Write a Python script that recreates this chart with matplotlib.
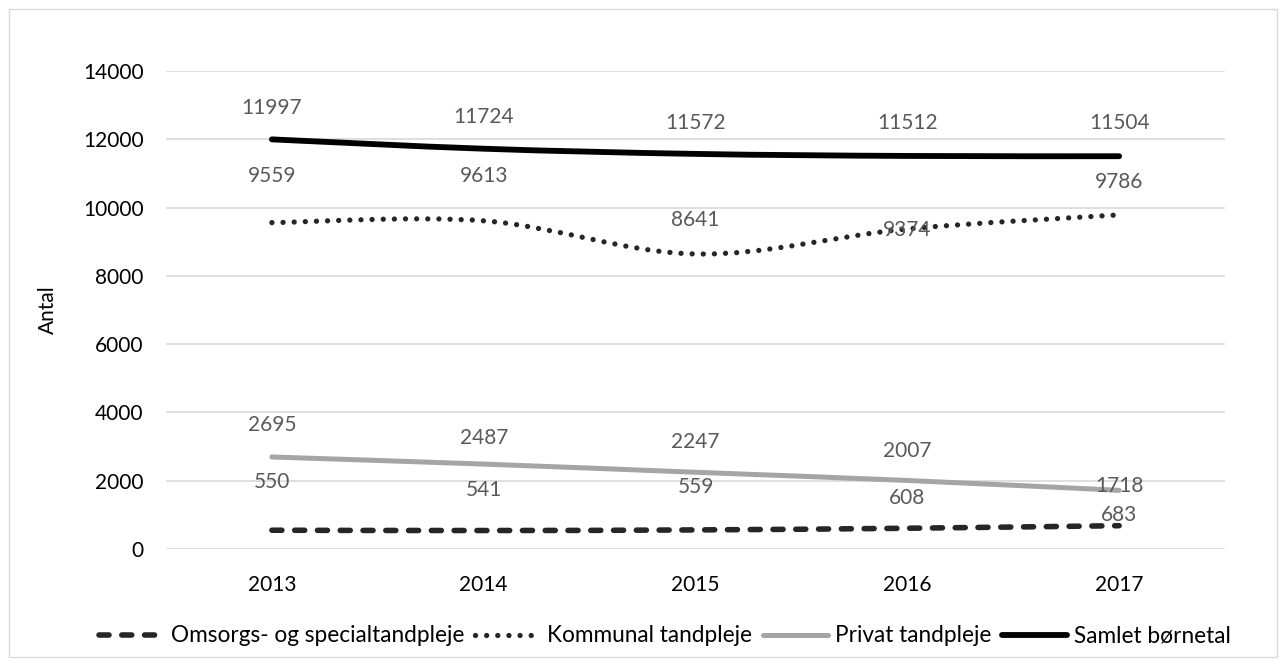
import numpy as np
import matplotlib.pyplot as plt
from matplotlib.path import Path
from matplotlib.patches import PathPatch, Rectangle
from matplotlib.lines import Line2D

# data
years = ['2013', '2014', '2015', '2016', '2017']
omsorg = [550, 541, 559, 608, 683]
kommunal = [9559, 9613, 8641, 9374, 9786]
privat = [2695, 2487, 2247, 2007, 1718]
samlet = [11997, 11724, 11572, 11512, 11504]
names = ['Omsorgs- og specialtandpleje', 'Kommunal tandpleje',
         'Privat tandpleje', 'Samlet børnetal']

# label offsets (pixels above point), labels were placed by hand in the original
offs_omsorg = [48, 41, 43, 30, 11]
offs_kommunal = [47, 45, 34, -1, 33]
offs_privat = [32, 26, 30, 29, 4]
offs_samlet = [31, 32, 31, 33, 33]

plt.rcParams['font.family'] = ['Lato', 'DejaVu Sans']


def smooth_path(xs, ys):
    # excel style smoothed line: cubic bezier, catmull-rom control points
    pts = list(zip(xs, ys))
    verts = [pts[0]]
    codes = [Path.MOVETO]
    n = len(pts)
    for i in range(n - 1):
        p0 = pts[max(i - 1, 0)]
        p1 = pts[i]
        p2 = pts[i + 1]
        p3 = pts[min(i + 2, n - 1)]
        c1 = (p1[0] + (p2[0] - p0[0]) / 6, p1[1] + (p2[1] - p0[1]) / 6)
        c2 = (p2[0] - (p3[0] - p1[0]) / 6, p2[1] - (p3[1] - p1[1]) / 6)
        verts += [c1, c2, p2]
        codes += [Path.CURVE4] * 3
    return Path(verts, codes)


fig = plt.figure(figsize=(12.86, 6.66), dpi=100)
fig.patches.append(Rectangle((9 / 1286, 9 / 666), 1268 / 1286, 648 / 666,
                             transform=fig.transFigure, fill=False,
                             edgecolor='#D9D9D9', linewidth=1))
ax = fig.add_axes([166 / 1286, 1 - 549 / 666, 1059 / 1286, 478 / 666])

x = np.arange(len(years))
styles = [
    dict(color='#262626', lw=4, ls=(0, (1.8, 2.3))),
    dict(color='#262626', lw=3.8, ls=(0, (0.01, 2.1))),
    dict(color='#A5A5A5', lw=3.6, ls='-'),
    dict(color='#000000', lw=4.2, ls='-'),
]
series = [omsorg, kommunal, privat, samlet]
offsets = [offs_omsorg, offs_kommunal, offs_privat, offs_samlet]

handles = []
for vals, st, offs, name in zip(series, styles, offsets, names):
    patch = PathPatch(smooth_path(x, vals), fill=False, edgecolor=st['color'],
                      linewidth=st['lw'], linestyle=st['ls'], capstyle='round',
                      joinstyle='round', zorder=3)
    ax.add_patch(patch)
    handles.append(Line2D([], [], color=st['color'], lw=st['lw'], ls=st['ls'],
                          dash_capstyle='round', solid_capstyle='round', label=name))
    for xi, v, o in zip(x, vals, offs):
        ax.annotate(str(v), (xi, v), xytext=(0, o), textcoords='offset pixels',
                    ha='center', va='center', fontsize=15, color='#595959', zorder=4)

ax.set_xlim(-0.5, 4.5)
ax.set_ylim(0, 14000)
ax.set_yticks(range(0, 14001, 2000))
ax.set_xticks(x)
ax.set_xticklabels(years)
ax.tick_params(axis='both', length=0, labelsize=15, colors='black')
ax.tick_params(axis='y', pad=16)
ax.tick_params(axis='x', pad=19)
ax.grid(axis='y', color='#D9D9D9', linewidth=1.2)
ax.set_axisbelow(True)
for s in ax.spines.values():
    s.set_visible(False)
ax.set_ylabel('Antal', fontsize=15, labelpad=18)

fig.legend(handles=handles, loc='center', bbox_to_anchor=(0.517, 1 - 636 / 666),
           ncol=4, frameon=False, fontsize=16.3, handlelength=2.9,
           handletextpad=0.3, columnspacing=0.45)

fig.savefig('out.png', dpi=100)
